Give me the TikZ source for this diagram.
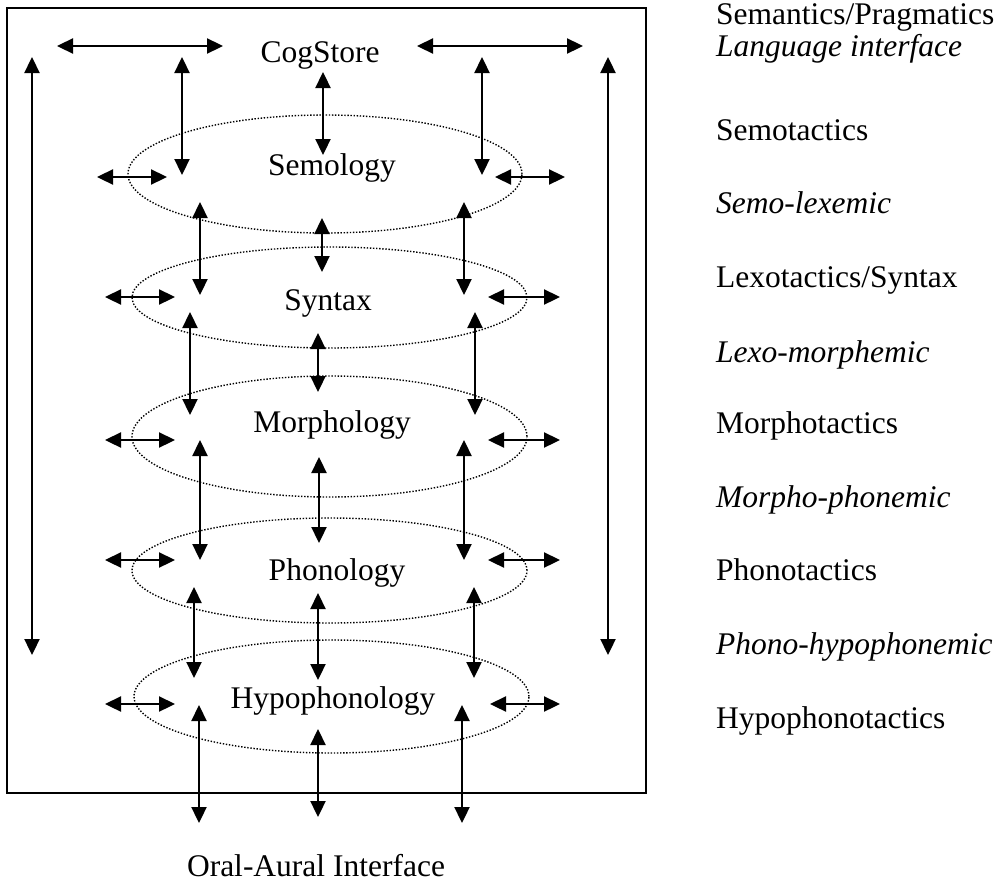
\documentclass[tikz,border=0pt]{standalone}
\usepackage{fontspec}
\setmainfont{Liberation Serif}
\usetikzlibrary{arrows.meta,shapes.geometric}
\tikzset{
  txt/.style={font=\fontsize{31.5}{37}\selectfont, inner sep=0pt},
  lbl/.style={txt, anchor=base},
  side/.style={txt, anchor=base west},
  dbl/.style={line width=2.3pt, {Triangle[length=16pt 0 0,width=15pt 0 0]}-{Triangle[length=16pt 0 0,width=15pt 0 0]}},
  lvl/.style={draw, ellipse, inner sep=0pt, line width=1.4pt, dash pattern=on 1.4pt off 1.7pt},
  frame/.style={draw, line width=2pt}
}
\begin{document}
\begin{tikzpicture}[x=1pt,y=-1pt]
\fill[white] (0,0) rectangle (1003,886);
\useasboundingbox (0,0) rectangle (1003,886);
% outer frame
\coordinate (boxA) at (7,8);
\coordinate (boxB) at (646,793);
\draw[frame] (boxA) rectangle (boxB);
% level ellipses
\node[lvl, minimum width=394pt, minimum height=118pt] (semE) at (325,174) {};
\node[lvl, minimum width=395pt, minimum height=101pt] (synE) at (329.5,297.5) {};
\node[lvl, minimum width=395pt, minimum height=121pt] (morE) at (329.5,436.5) {};
\node[lvl, minimum width=395pt, minimum height=105pt] (phoE) at (329.5,570.5) {};
\node[lvl, minimum width=395pt, minimum height=113pt] (hypE) at (331.5,696.5) {};
% level labels
\node[lbl] (cog) at (320,62) {CogStore};
\node[lbl] (sem) at (332,175) {Semology};
\node[lbl] (syn) at (328,310) {Syntax};
\node[lbl] (mor) at (332,432) {Morphology};
\node[lbl] (pho) at (337,580) {Phonology};
\node[lbl] (hyp) at (333,708) {Hypophonology};
\node[lbl] (oral) at (316,876) {Oral-Aural Interface};
% right column
\node[side] (r1) at (716,24) {Semantics/Pragmatics};
\node[side] (r2) at (716,56) {\itshape Language interface};
\node[side] (r3) at (716,140) {Semotactics};
\node[side] (r4) at (716,213) {\itshape Semo-lexemic};
\node[side] (r5) at (716,287) {Lexotactics/Syntax};
\node[side] (r6) at (716,362) {\itshape Lexo-morphemic};
\node[side] (r7) at (716,433) {Morphotactics};
\node[side] (r8) at (716,507) {\itshape Morpho-phonemic};
\node[side] (r9) at (716,580) {Phonotactics};
\node[side] (r10) at (716,654) {\itshape Phono-hypophonemic};
\node[side] (r11) at (716,728) {Hypophonotactics};
% double-headed arrows
\foreach \n/\xa/\ya/\xb/\yb in {
  tl/57/46/223/46, tr/417/46/583/46,
  lv/32/57/32/655, rv/608/57/608/655,
  cs1/182/57/182/175, cs2/323/72/323/155, cs3/482/57/482/175,
  sh1/97/177/167/177, sh2/495/177/565/177,
  ss1/200/202/200/295, ss2/322/218/322/272, ss3/464/202/464/295,
  yh1/105/297/175/297, yh2/488/297/560/297,
  sm1/190/312/190/415, sm2/318/333/318/392, sm3/475/312/475/415,
  mh1/105/440/175/440, mh2/488/440/560/440,
  mp1/200/440/200/560, mp2/319/457/319/543, mp3/464/440/464/560,
  ph1/105/560/175/560, ph2/488/560/560/560,
  pp1/194/587/194/678, pp2/318/593/318/680, pp3/474/587/474/678,
  hh1/105/704/175/704, hh2/490/704/560/704,
  ho1/199/705/199/823, ho2/318/729/318/817, ho3/462/705/462/823}
{
  \coordinate (\n-s) at (\xa,\ya);
  \coordinate (\n-e) at (\xb,\yb);
  \draw[dbl] (\n-s) -- (\n-e);
}
\end{tikzpicture}
\end{document}
